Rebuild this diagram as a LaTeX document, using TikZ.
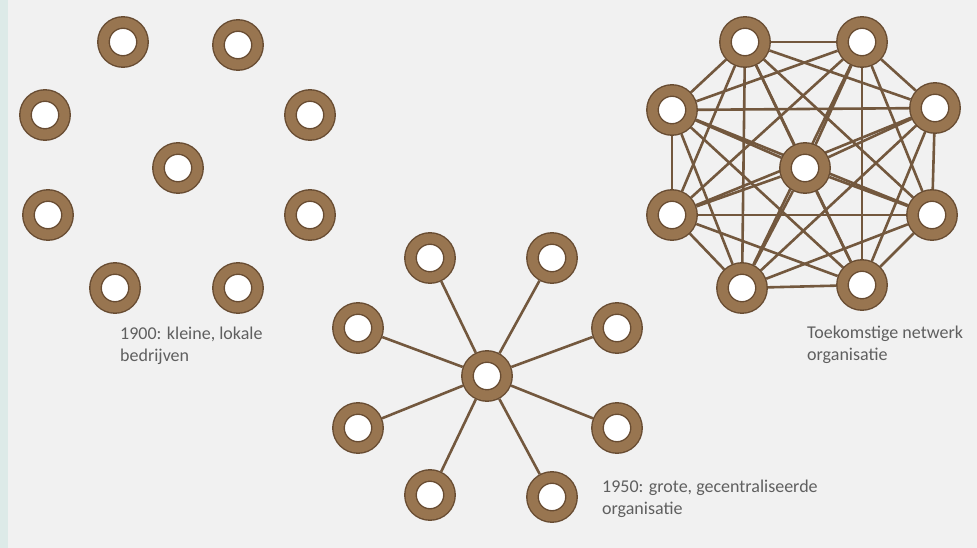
\documentclass[tikz,border=0pt]{standalone}
\usepackage{fontspec}
\setmainfont{Carlito}
\usepackage{xcolor}
\usepackage{tikz}
\usetikzlibrary{backgrounds}
\definecolor{bgcol}{RGB}{241,241,241}
\definecolor{stripcol}{RGB}{221,234,232}
\definecolor{ringbrown}{RGB}{152,117,80}
\definecolor{ringdark}{RGB}{104,76,50}
\definecolor{linkbrown}{RGB}{115,88,62}
\definecolor{txtgray}{RGB}{95,95,95}

\begin{document}
\begin{tikzpicture}[
    x=1pt, y=-1pt,
    ring/.style={circle, draw=ringdark, line width=1.4pt, double=ringbrown, double distance=10pt,
                 fill=white, minimum size=39pt, inner sep=0pt, outer sep=6.4pt},
    link/.style={draw=linkbrown, line width=2.6pt},
    caption/.style={anchor=west, align=left, inner sep=0pt, text=txtgray,
                    font=\fontsize{18}{22}\selectfont}
]
\useasboundingbox (0,0) rectangle (977,548);

% 1900: loose nodes
\node[ring] (l1) at (123,42) {};
\node[ring] (l2) at (238,45) {};
\node[ring] (l3) at (45,115) {};
\node[ring] (l4) at (310,115) {};
\node[ring] (l5) at (178,168) {};
\node[ring] (l6) at (48,215) {};
\node[ring] (l7) at (310,215) {};
\node[ring] (l8) at (115,288) {};
\node[ring] (l9) at (238,288) {};
\node[caption] (t1) at (120,346) {1900: kleine, lokale\\bedrijven};

% 1950: star
\node[ring] (m0) at (487,376) {};
\node[ring] (m1) at (430,258) {};
\node[ring] (m2) at (552,258) {};
\node[ring] (m3) at (617,328) {};
\node[ring] (m4) at (617,428) {};
\node[ring] (m5) at (552,497) {};
\node[ring] (m6) at (430,495) {};
\node[ring] (m7) at (358,428) {};
\node[ring] (m8) at (358,328) {};
\node[caption] (t2) at (602,499) {1950: grote, gecentraliseerde\\organisatie};

% toekomst: netwerk
\node[ring] (n0) at (805,168) {};
\node[ring] (n1) at (745,42) {};
\node[ring] (n2) at (862,42) {};
\node[ring] (n3) at (935,108) {};
\node[ring] (n4) at (932,215) {};
\node[ring] (n5) at (862,285) {};
\node[ring] (n6) at (742,288) {};
\node[ring] (n7) at (672,215) {};
\node[ring] (n8) at (672,110) {};
\node[caption] (t3) at (807,345) {Toekomstige netwerk\\organisatie};

% links behind the rings
\begin{scope}[on background layer]
\fill[bgcol] (0,0) rectangle (977,548);
\fill[stripcol] (0,0) rectangle (8,548);
\foreach \i in {1,...,8}
    \draw[link] (m0) -- (m\i);
\foreach \i in {0,...,7} {
    \pgfmathtruncatemacro{\first}{\i+1}
    \foreach \j in {\first,...,8}
        \draw[link] (n\i) -- (n\j);
}
\end{scope}
\end{tikzpicture}
\end{document}
